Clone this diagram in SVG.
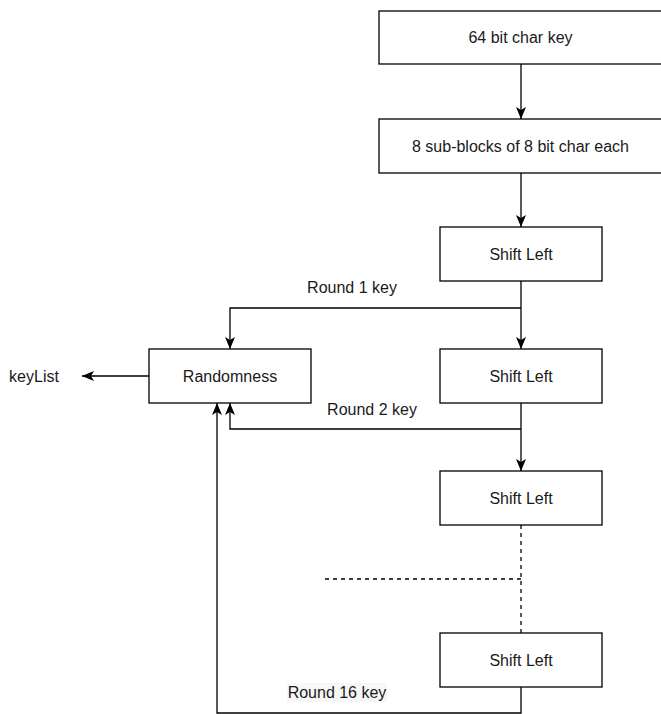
<svg xmlns="http://www.w3.org/2000/svg" width="661" height="714" viewBox="0 0 661 714">
<style>
.box{fill:#fff;stroke:#000;stroke-width:1.3}
.t{font-family:"Liberation Sans",Arial,sans-serif;font-size:16px;fill:#1a1a1a;text-anchor:middle}
.c{fill:none;stroke:#000;stroke-width:1.3}
.d{stroke-dasharray:4 4}
</style>
<defs>
<marker id="arr" viewBox="-13 -6 14 12" refX="0" refY="0" markerWidth="14" markerHeight="12" markerUnits="userSpaceOnUse" orient="auto">
<path d="M0,0 L-12,-5 L-9,0 L-12,5 Z" fill="#000"/>
</marker>
</defs>
<rect width="661" height="714" fill="#fff"/>
<g id="connectors">
<path class="c" d="M521,64 V119" marker-end="url(#arr)"/>
<path class="c" d="M521,173 V227" marker-end="url(#arr)"/>
<path class="c" d="M521,281 V349" marker-end="url(#arr)"/>
<path class="c" d="M521,308 H230 V349" marker-end="url(#arr)"/>
<path class="c" d="M149,376 H82" marker-end="url(#arr)"/>
<path class="c" d="M521,403 V471" marker-end="url(#arr)"/>
<path class="c" d="M521,429 H230 V403" marker-end="url(#arr)"/>
<path class="c d" d="M521,525 V633"/>
<path class="c d" d="M521,579 H322"/>
<path class="c" d="M521,687 V713 H217 V403" marker-end="url(#arr)"/>
<text class="t" x="352" y="293">Round 1 key</text>
<text class="t" x="372" y="415">Round 2 key</text>
<rect x="287" y="683" width="100" height="19" fill="#f7f7f7"/>
<text class="t" x="337" y="698">Round 16 key</text>
<text class="t" x="34" y="382">keyList</text>
</g>
<g id="key64">
<rect class="box" x="379" y="11" width="300" height="53"/>
<text class="t" x="520.5" y="43">64 bit char key</text>
</g>
<g id="subblocks">
<rect class="box" x="379" y="119" width="300" height="54"/>
<text class="t" x="520.5" y="151.5">8 sub-blocks of 8 bit char each</text>
</g>
<g id="shift1">
<rect class="box" x="440" y="227" width="162" height="54"/>
<text class="t" x="521" y="259.5">Shift Left</text>
</g>
<g id="shift2">
<rect class="box" x="440" y="349" width="162" height="54"/>
<text class="t" x="521" y="381.5">Shift Left</text>
</g>
<g id="randomness">
<rect class="box" x="149" y="349" width="162" height="54"/>
<text class="t" x="230" y="381.5">Randomness</text>
</g>
<g id="shift3">
<rect class="box" x="440" y="471" width="162" height="54"/>
<text class="t" x="521" y="503.5">Shift Left</text>
</g>
<g id="shift4">
<rect class="box" x="440" y="633" width="162" height="54"/>
<text class="t" x="521" y="665.5">Shift Left</text>
</g>
</svg>
